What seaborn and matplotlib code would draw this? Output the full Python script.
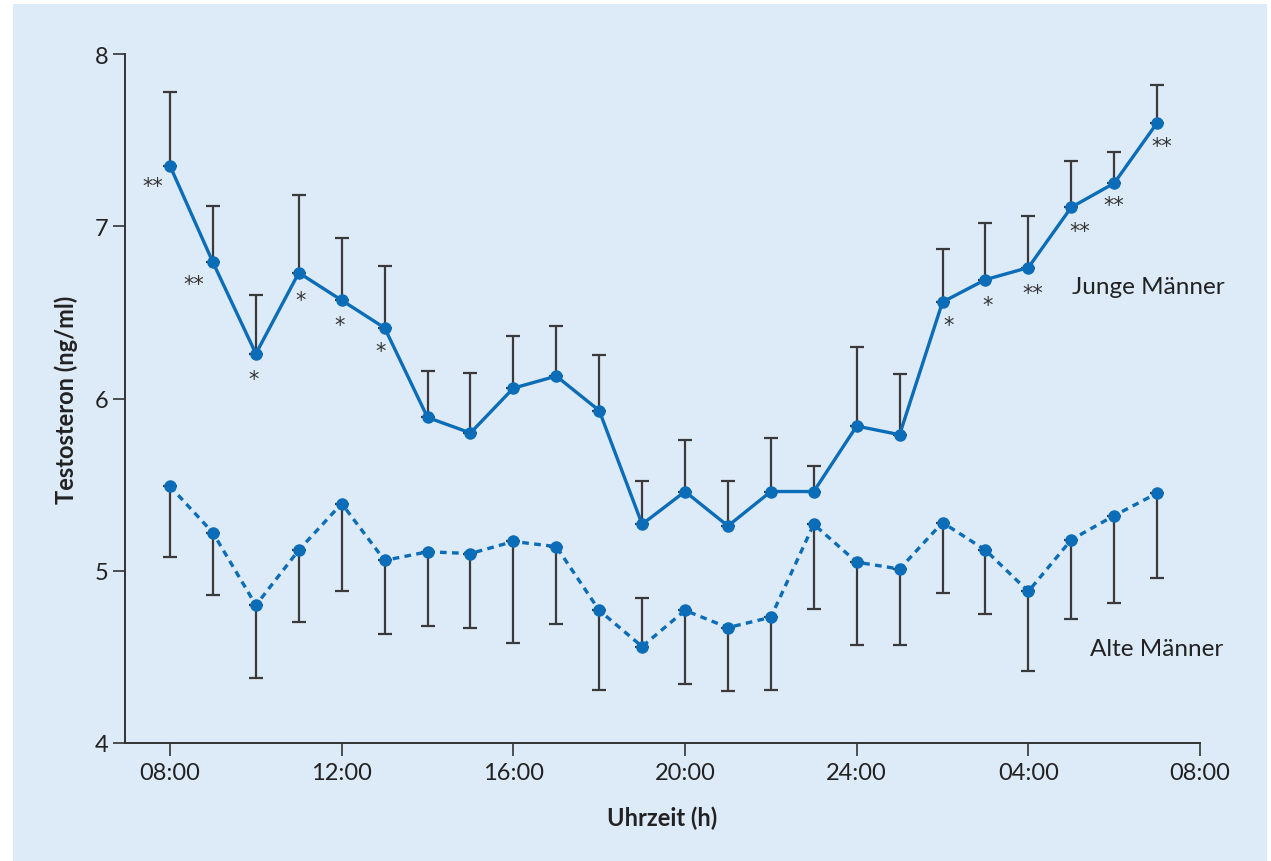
import matplotlib
matplotlib.use("Agg")
import matplotlib.pyplot as plt
import seaborn as sns
import numpy as np
import pandas as pd
from matplotlib.patches import Rectangle

# hours since midnight of day 1 (08:00 = 8, next 08:00 = 32)
hours = list(range(8, 32))

young_mean = [7.35, 6.79, 6.26, 6.73, 6.57, 6.41, 5.89, 5.80, 6.06, 6.13, 5.93, 5.27,
              5.46, 5.26, 5.46, 5.46, 5.84, 5.79, 6.56, 6.69, 6.76, 7.11, 7.25, 7.60]
young_bar_end = [7.78, 7.12, 6.60, 7.18, 6.93, 6.77, 6.16, 6.15, 6.36, 6.42, 6.25, 5.52,
                 5.76, 5.52, 5.77, 5.61, 6.30, 6.14, 6.87, 7.02, 7.06, 7.38, 7.43, 7.82]

old_mean = [5.49, 5.22, 4.80, 5.12, 5.39, 5.06, 5.11, 5.10, 5.17, 5.14, 4.77, 4.56,
            4.77, 4.67, 4.73, 5.27, 5.05, 5.01, 5.28, 5.12, 4.88, 5.18, 5.32, 5.45]
old_bar_end = [5.08, 4.86, 4.38, 4.70, 4.88, 4.63, 4.68, 4.67, 4.58, 4.69, 4.31, 4.84,
               4.34, 4.30, 4.31, 4.78, 4.57, 4.57, 4.87, 4.75, 4.42, 4.72, 4.81, 4.96]

# significance marks: (hour position, value position, text)
stars_hour = [7.6, 8.56, 9.95, 11.05, 11.95, 12.9, 26.15, 27.05, 28.1, 29.2, 30.0, 31.1]
stars_value = [7.27, 6.70, 6.15, 6.61, 6.46, 6.31, 6.46, 6.58, 6.65, 7.01, 7.16, 7.50]
stars_text = ["**", "**", "*", "*", "*", "*", "*", "*", "**", "**", "**", "**"]

tick_hours = [8, 12, 16, 20, 24, 28, 32]
tick_labels = ["08:00", "12:00", "16:00", "20:00", "24:00", "04:00", "08:00"]

blue = "#0b6db7"
bar_color = "#3a3a3a"
panel = "#ddeaf7"

sns.set_style("ticks")
plt.rcParams["font.family"] = ["Lato", "DejaVu Sans"]

fig = plt.figure(figsize=(12.71, 8.62), dpi=100)
fig.patch.set_facecolor("white")
fig.patches.append(Rectangle((13 / 1271, 0), (1267 - 13) / 1271, (862 - 5) / 862,
                             transform=fig.transFigure, facecolor=panel,
                             edgecolor="none", zorder=-10))
ax = fig.add_axes([125 / 1271, (862 - 744) / 862, (1200 - 125) / 1271, (744 - 55) / 862])
ax.set_zorder(5)
ax.set_facecolor("none")

df = pd.DataFrame({"hour": hours + hours,
                   "value": young_mean + old_mean,
                   "group": ["Junge Männer"] * len(hours) + ["Alte Männer"] * len(hours)})


def draw_bars(mean, end):
    mean = np.array(mean)
    end = np.array(end)
    lo = np.clip(mean - end, 0, None)
    hi = np.clip(end - mean, 0, None)
    ax.errorbar(hours, mean, yerr=[lo, hi], fmt="none", ecolor=bar_color,
                elinewidth=1.6, capsize=5, capthick=1.6, zorder=2)


draw_bars(young_mean, young_bar_end)
draw_bars(old_mean, old_bar_end)

sns.lineplot(data=df[df.group == "Junge Männer"], x="hour", y="value", ax=ax,
             color=blue, lw=2.4, marker="o", markersize=9, markeredgewidth=0,
             zorder=3)
sns.lineplot(data=df[df.group == "Alte Männer"], x="hour", y="value", ax=ax,
             color=blue, lw=2.4, marker="o", markersize=9, markeredgewidth=0,
             zorder=3)
ax.lines[-1].set_linestyle((0, (2.0, 1.6)))

# asterisk glyph sits high in the em box, so anchor on the baseline and shift down
star_fs = 15
for hx, vy, s in zip(stars_hour, stars_value, stars_text):
    ax.annotate(s, (hx, vy), xytext=(0, -0.58 * star_fs), textcoords="offset points",
                ha="center", va="baseline", fontsize=star_fs, color="#333333",
                family="DejaVu Sans")

ax.text(30.8, 6.65, "Junge Männer", ha="center", va="center", fontsize=17.5, color="#222222")
ax.text(30.98, 4.55, "Alte Männer", ha="center", va="center", fontsize=17.5, color="#222222")

ax.set_xlim(6.95, 32)
ax.set_ylim(4, 8)
ax.set_xticks(tick_hours)
ax.set_xticklabels(tick_labels)
ax.set_yticks([4, 5, 6, 7, 8])
ax.tick_params(axis="both", direction="out", length=9, width=1.2, color="#333333",
               labelsize=17, labelcolor="#222222")
ax.tick_params(axis="x", pad=5)
ax.tick_params(axis="y", pad=3)
for side in ["top", "right"]:
    ax.spines[side].set_visible(False)
for side in ["left", "bottom"]:
    ax.spines[side].set_linewidth(1.4)
    ax.spines[side].set_color("#333333")

ax.set_xlabel("Uhrzeit (h)", fontsize=17, fontweight="bold", color="#222222", labelpad=16)
ax.set_ylabel("Testosteron (ng/ml)", fontsize=17, fontweight="bold", color="#222222", labelpad=12)
if ax.get_legend():
    ax.get_legend().remove()

fig.savefig("out.png", dpi=100)
plt.close()
